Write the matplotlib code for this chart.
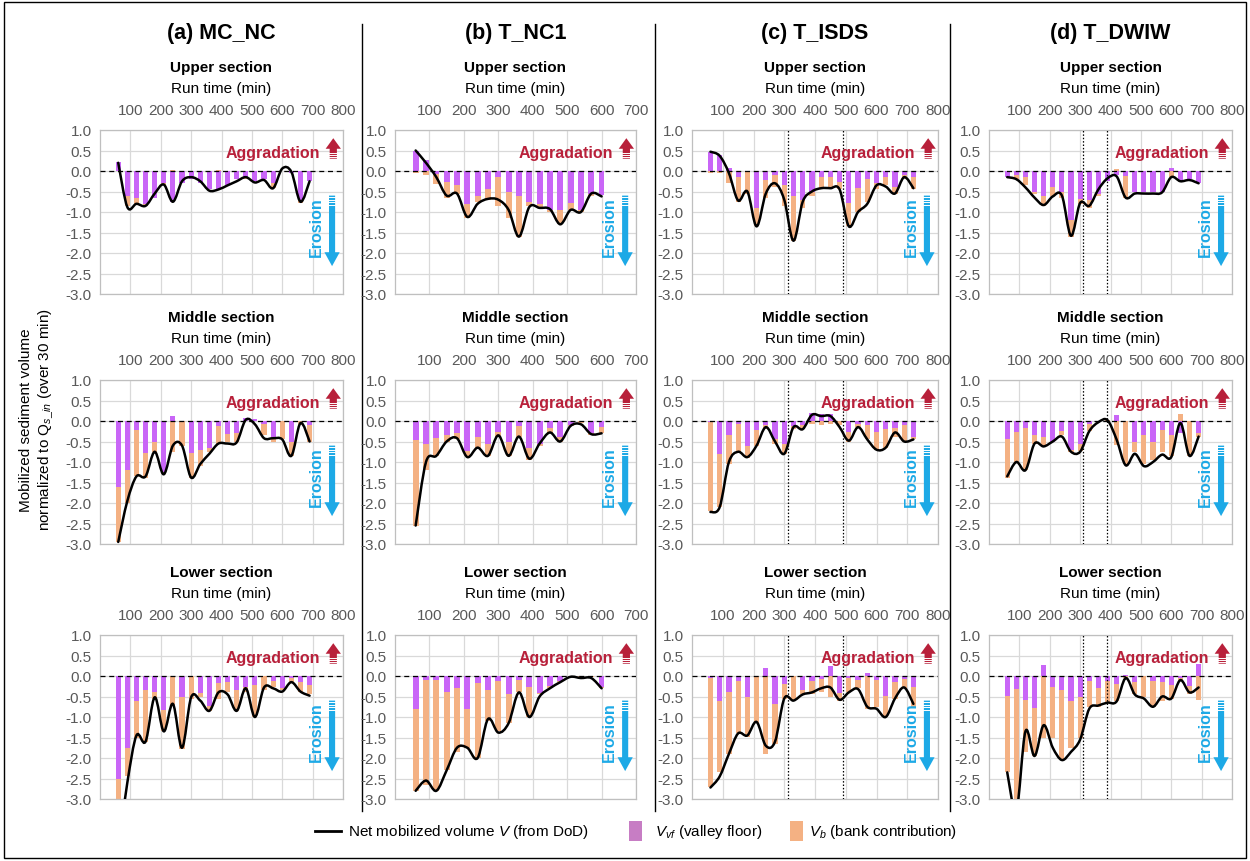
"""Mobilized sediment volume per 30-min interval for four runs and three reach sections."""

import matplotlib

matplotlib.use("Agg")

import matplotlib.pyplot as plt
import numpy as np
from matplotlib import transforms
from matplotlib.patches import PathPatch, Rectangle
from matplotlib.path import Path

plt.rcParams["font.family"] = ["Liberation Sans", "DejaVu Sans"]
plt.rcParams["axes.unicode_minus"] = False
plt.rcParams["mathtext.fontset"] = "custom"
plt.rcParams["mathtext.rm"] = "Liberation Sans"
plt.rcParams["mathtext.it"] = "Liberation Sans:italic"

TICK_FONT = ["Liberation Sans Narrow", "Liberation Sans"]

# ---- run times (min) at which each interval is reported ----
RUN_TIME_A = list(range(60, 700, 30))
RUN_TIME_B = list(range(60, 610, 30))
RUN_TIME_C = list(range(60, 730, 30))
RUN_TIME_D = list(range(60, 700, 30))

# ---- (a) MC_NC ----
a_upper_vf = [0.22, -0.6, -0.65, -0.8, -0.65, -0.3, -0.75, -0.3, -0.2, -0.3, -0.45, -0.45,
              -0.35, -0.2, -0.15, -0.25, -0.2, -0.3, 0.0, -0.05, -0.7, -0.25]
a_upper_bank = [0, -0.25, -0.15, -0.05, 0, -0.05, 0.03, 0, 0, 0, 0, 0.02,
                0, 0, -0.05, 0, 0, -0.12, 0, 0, -0.08, 0]
a_upper_net = [0.2, -0.88, -0.8, -0.85, -0.55, -0.33, -0.75, -0.25, -0.15, -0.25, -0.48, -0.45,
               -0.35, -0.25, -0.15, -0.28, -0.22, -0.42, 0.06, -0.02, -0.75, -0.25]

a_middle_vf = [-1.62, -1.2, -0.22, -0.78, -0.5, -1.25, 0.12, 0, -0.78, -0.7, -0.65, -0.12,
               -0.32, -0.3, 0.07, 0.05, -0.08, -0.4, 0, -0.5, 0, -0.1]
a_middle_bank = [-1.33, -0.8, -1.13, -0.62, -0.25, -0.05, -0.75, -0.6, -0.62, -0.4, -0.1, -0.43,
                 -0.18, -0.2, 0, 0, -0.27, -0.1, -0.45, -0.35, -0.1, -0.4]
a_middle_net = [-2.95, -1.95, -1.35, -1.35, -0.75, -1.3, -0.6, -0.6, -1.38, -1.05, -0.8, -0.55,
                -0.55, -0.52, 0.03, -0.08, -0.42, -0.42, -0.45, -0.85, -0.05, -0.5]

a_lower_vf = [-2.5, -1.75, -0.62, -0.35, -0.4, -0.82, 0, -0.5, 0, -0.42, -0.72, -0.18,
              -0.15, -0.35, -0.28, -0.22, 0, -0.12, -0.3, -0.05, -0.15, -0.22]
a_lower_bank = [-0.6, -0.7, -0.88, -1.25, -0.15, -0.53, -0.7, -1.28, -0.55, -0.08, -0.13, -0.37,
                -0.25, -0.5, -0.12, -0.78, -0.35, -0.16, -0.05, -0.1, -0.23, -0.23]
a_lower_net = [-4.2, -2.6, -1.45, -1.6, -0.52, -1.35, -0.68, -1.75, -0.52, -0.6, -0.85, -0.4,
               -0.45, -0.85, -0.3, -1.0, -0.28, -0.3, -0.38, -0.15, -0.38, -0.48]

# ---- (b) T_NC1 ----
b_upper_vf = [0.5, 0.28, -0.07, -0.28, -0.33, -0.8, -0.6, -0.45, -0.15, -0.5, -0.6, -0.75,
              -0.8, -0.95, -0.95, -0.78, -0.95, -0.55, -0.58]
b_upper_bank = [-0.05, -0.1, -0.25, -0.37, -0.22, -0.35, -0.15, -0.25, -0.7, -0.65, -1.0, -0.1,
                -0.1, -0.05, -0.35, -0.17, -0.05, -0.05, 0]
b_upper_net = [0.5, 0.2, -0.15, -0.6, -0.55, -1.12, -0.8, -0.68, -0.7, -0.95, -1.6, -0.88,
               -0.9, -0.93, -1.3, -0.95, -1.0, -0.55, -0.62]

b_middle_vf = [-0.47, -0.55, -0.42, -0.35, -0.3, -0.72, -0.4, -0.55, -0.28, -0.5, -0.12, -0.65,
               -0.55, -0.18, -0.4, -0.1, 0, -0.3, -0.15]
b_middle_bank = [-2.08, -0.65, -0.43, -0.15, -0.15, -0.13, -0.25, -0.3, -0.12, -0.35, -0.28, -0.3,
                 -0.05, -0.12, -0.1, -0.02, -0.05, -0.05, -0.15]
b_middle_net = [-2.55, -1.0, -0.85, -0.5, -0.42, -0.88, -0.65, -0.85, -0.35, -0.85, -0.38, -0.92,
                -0.55, -0.28, -0.5, -0.12, -0.08, -0.32, -0.3]

b_lower_vf = [-0.8, -0.1, -0.1, -0.4, -0.3, -0.8, -0.18, -0.35, -0.12, -0.45, -0.1, -0.28,
              -0.42, -0.25, -0.12, 0, 0, 0, -0.28]
b_lower_bank = [-2.0, -2.55, -2.7, -1.9, -1.55, -0.95, -1.82, -0.75, -1.23, -0.7, -0.3, -0.72,
                -0.03, -0.05, -0.03, -0.02, -0.05, -0.02, -0.02]
b_lower_net = [-2.8, -2.55, -2.8, -2.3, -1.75, -1.75, -2.0, -1.05, -1.38, -1.15, -0.4, -1.0,
               -0.5, -0.3, -0.15, -0.02, -0.05, -0.05, -0.3]

# ---- (c) T_ISDS ----
c_upper_vf = [0.47, 0.38, 0.07, -0.15, -0.02, -0.9, -0.22, -0.1, -0.35, -0.6, -0.7, -0.5,
              -0.15, -0.15, -0.28, -0.78, -0.42, -0.2, -0.3, -0.15, -0.4, -0.1, -0.15]
c_upper_bank = [-0.05, -0.05, -0.3, -0.6, -0.53, -0.45, -0.43, -0.3, -0.5, -1.1, -0.2, -0.1,
                -0.3, -0.3, -0.17, -0.57, -0.58, -0.55, -0.15, -0.2, -0.15, -0.1, -0.3]
c_upper_net = [0.47, 0.37, -0.05, -0.72, -0.5, -1.35, -0.55, -0.3, -0.7, -1.7, -0.75, -0.5,
               -0.42, -0.42, -0.45, -1.35, -1.0, -0.8, -0.35, -0.38, -0.55, -0.15, -0.42]

c_middle_vf = [-0.02, -0.8, -0.35, -0.08, -0.6, -0.22, -0.1, -0.45, -0.55, -0.12, -0.1, 0.2,
               0.18, 0.18, 0, -0.28, -0.08, -0.1, -0.28, -0.2, -0.18, -0.1, -0.4]
c_middle_bank = [-2.18, -1.3, -0.7, -0.67, -0.3, -0.38, -0.1, -0.1, -0.25, -0.08, -0.1, -0.08,
                 -0.1, -0.08, -0.1, -0.22, -0.07, -0.35, -0.42, -0.45, -0.22, -0.4, -0.05]
c_middle_net = [-2.22, -2.1, -1.0, -0.75, -0.88, -0.6, -0.15, -0.5, -0.8, -0.15, -0.2, 0.15,
                0.12, 0.12, -0.15, -0.48, -0.15, -0.45, -0.7, -0.65, -0.28, -0.5, -0.45]

c_lower_vf = [-0.05, -0.62, -0.4, -0.12, -0.52, 0, 0.2, -0.68, -0.2, 0, -0.35, -0.12,
              -0.08, 0.25, -0.42, -0.05, -0.1, 0.08, -0.1, -0.48, -0.15, -0.08, -0.28]
c_lower_bank = [-2.65, -1.73, -1.5, -1.28, -0.98, -1.15, -1.9, -0.97, -0.35, -0.6, -0.1, -0.33,
                -0.32, -0.52, -0.18, -0.35, -0.2, -0.8, -0.65, -0.52, -0.4, -0.22, -0.5]
c_lower_net = [-2.72, -2.45, -1.9, -1.4, -1.45, -1.12, -1.7, -1.6, -0.55, -0.6, -0.45, -0.4,
               -0.3, -0.28, -0.58, -0.4, -0.32, -0.75, -0.8, -1.0, -0.55, -0.28, -0.68]

# ---- (d) T_DWIW ----
d_upper_vf = [-0.15, -0.1, -0.15, -0.5, -0.6, -0.4, -0.5, -1.2, -0.68, -0.7, -0.55, -0.25,
              -0.1, -0.12, -0.5, -0.5, -0.5, -0.5, 0.08, -0.25, -0.2, -0.3]
d_upper_bank = [0, -0.1, -0.2, -0.05, -0.25, -0.2, -0.15, -0.4, -0.12, -0.2, -0.05, 0,
                0.05, -0.53, 0, 0, 0, 0, -0.15, 0, 0, 0]
d_upper_net = [-0.15, -0.2, -0.4, -0.65, -0.83, -0.62, -0.6, -1.58, -0.78, -0.85, -0.45, -0.18,
               -0.13, -0.65, -0.55, -0.55, -0.55, -0.52, -0.15, -0.25, -0.22, -0.3]

d_middle_vf = [-0.45, -0.27, -0.18, -0.35, -0.38, -0.5, -0.25, -0.7, -0.55, -0.08, 0, 0,
               0.15, 0, -0.5, -0.35, -0.52, -0.22, -0.35, -0.3, 0, -0.3]
d_middle_bank = [-0.93, -0.73, -1.02, -0.2, -0.22, 0, -0.1, -0.05, -0.17, -0.17, -0.02, 0.02,
                 -0.58, -1.05, -0.25, -0.7, -0.43, -0.53, -0.5, 0.18, -0.85, -0.08]
d_middle_net = [-1.35, -1.0, -1.2, -0.55, -0.62, -0.5, -0.38, -0.75, -0.75, -0.25, -0.03, 0.02,
                -0.45, -1.08, -0.8, -1.1, -1.0, -0.82, -0.88, -0.05, -0.85, -0.38]

d_lower_vf = [-0.48, -0.32, -0.58, -0.78, 0.28, -0.28, -0.35, -0.6, -0.5, -0.12, -0.3, -0.12,
              -0.2, 0.03, -0.15, 0, -0.12, -0.15, -0.22, -0.05, -0.25, 0.3]
d_lower_bank = [-1.87, -2.7, -1.27, -1.17, -1.5, -1.22, -1.7, -1.15, -1.0, -0.63, -0.45, -0.53,
                -0.4, -0.05, -0.3, -0.5, -0.63, -0.47, -0.33, -0.07, -0.2, -0.58]
d_lower_net = [-2.35, -3.3, -1.35, -1.95, -1.2, -1.75, -2.05, -1.85, -1.55, -0.8, -0.72, -0.65,
               -0.62, -0.05, -0.45, -0.55, -0.75, -0.5, -0.55, -0.1, -0.4, -0.28]

RUN_TITLES = ["(a) MC_NC", "(b) T_NC1", "(c) T_ISDS", "(d) T_DWIW"]
SECTION_TITLES = ["Upper section", "Middle section", "Lower section"]
RUN_TIMES = [RUN_TIME_A, RUN_TIME_B, RUN_TIME_C, RUN_TIME_D]
X_MAX = [800, 700, 800, 800]
# times of the dotted markers in the T_ISDS and T_DWIW runs
EVENT_TIMES = [[], [], [312, 492], [310, 390]]

SERIES = [
    [(a_upper_vf, a_upper_bank, a_upper_net), (a_middle_vf, a_middle_bank, a_middle_net),
     (a_lower_vf, a_lower_bank, a_lower_net)],
    [(b_upper_vf, b_upper_bank, b_upper_net), (b_middle_vf, b_middle_bank, b_middle_net),
     (b_lower_vf, b_lower_bank, b_lower_net)],
    [(c_upper_vf, c_upper_bank, c_upper_net), (c_middle_vf, c_middle_bank, c_middle_net),
     (c_lower_vf, c_lower_bank, c_lower_net)],
    [(d_upper_vf, d_upper_bank, d_upper_net), (d_middle_vf, d_middle_bank, d_middle_net),
     (d_lower_vf, d_lower_bank, d_lower_net)],
]

VF_COLOR = "#C966F7"
BANK_COLOR = "#F4B183"
LEGEND_VF = "#C77DC4"
AGG_COLOR = "#B8203A"
ERO_COLOR = "#1DA9E6"
TICK_COLOR = "#595959"
GRID_COLOR = "#D9D9D9"

W, H = 1250, 862
COL_X = [(100, 343), (395, 636), (692, 938), (989, 1232)]
ROW_TOP = [131, 381, 636]
PANEL_H = 164


def smooth_path(x, y):
    """Excel-style smoothed line: cubic Bezier segments with Catmull-Rom tangents."""
    pts = np.column_stack([x, y]).astype(float)
    padded = np.vstack([pts[0], pts, pts[-1]])
    verts = [pts[0]]
    codes = [Path.MOVETO]
    for i in range(len(pts) - 1):
        p0, p1, p2, p3 = padded[i], padded[i + 1], padded[i + 2], padded[i + 3]
        verts += [p1 + (p2 - p0) / 6.0, p2 - (p3 - p1) / 6.0, p2]
        codes += [Path.CURVE4] * 3
    return Path(np.array(verts), codes)


def draw_panel(ax, times, vf, bank, net, xmax, events):
    t = np.asarray(times, dtype=float)
    vf = np.asarray(vf, dtype=float)
    bank = np.asarray(bank, dtype=float)
    same_sign = np.sign(vf) == np.sign(bank)
    bottom = np.where(same_sign, vf, 0.0)

    ax.bar(t, vf, width=17, color=VF_COLOR, zorder=2)
    ax.bar(t, bank, width=17, bottom=bottom, color=BANK_COLOR, zorder=2)
    ax.add_patch(PathPatch(smooth_path(t, net), facecolor="none", edgecolor="black",
                           lw=1.8, zorder=4, capstyle="round", joinstyle="round"))

    ax.axhline(0, color="black", lw=0.9, ls=(0, (4, 3)), zorder=3)
    for ev in events:
        ax.axvline(ev, color="black", lw=0.9, ls=(0, (1.2, 1.5)), zorder=3)

    ax.set_xlim(0, xmax)
    ax.set_ylim(-3.0, 1.0)
    ax.set_xticks(range(100, xmax + 1, 100))
    ax.set_yticks(np.arange(-3.0, 1.01, 0.5))
    ax.set_yticklabels([f"{v:.1f}" for v in np.arange(-3.0, 1.01, 0.5)])
    ax.xaxis.tick_top()
    ax.tick_params(length=0, labelsize=11, labelcolor=TICK_COLOR)
    ax.tick_params(axis="x", pad=9)
    ax.tick_params(axis="y", pad=6)
    for lab in ax.get_xticklabels() + ax.get_yticklabels():
        lab.set_family(TICK_FONT)
    ax.grid(True, color=GRID_COLOR, lw=0.9, zorder=0)
    ax.set_axisbelow(True)
    for sp in ax.spines.values():
        sp.set_color("#BFBFBF")
        sp.set_linewidth(0.9)

    # aggradation / erosion cues
    bt = transforms.blended_transform_factory(ax.transAxes, ax.transData)
    ax.text(0.905, 0.45, "Aggradation", transform=bt, ha="right", va="center",
            fontsize=11.5, fontweight="bold", color=AGG_COLOR, zorder=5)
    ax.annotate("", xy=(0.96, 0.8), xytext=(0.96, 0.3), xycoords=bt, textcoords=bt,
                arrowprops=dict(arrowstyle="simple,head_width=0.55,head_length=0.38,tail_width=0.26",
                                mutation_scale=20, color=AGG_COLOR, lw=0,
                                shrinkA=0, shrinkB=0), zorder=5)
    for yy in (0.33, 0.39, 0.45):
        ax.plot([0.94, 0.98], [yy, yy], transform=bt, color="white", lw=0.7, zorder=6)

    ax.text(0.89, -1.35, "Erosion", transform=bt, ha="center", va="center", rotation=90,
            fontsize=11.5, fontweight="bold", color=ERO_COLOR, zorder=5)
    ax.annotate("", xy=(0.955, -2.32), xytext=(0.955, -0.6), xycoords=bt, textcoords=bt,
                arrowprops=dict(arrowstyle="simple,head_width=0.55,head_length=0.5,tail_width=0.22",
                                mutation_scale=20, color=ERO_COLOR, lw=0,
                                shrinkA=0, shrinkB=0), zorder=5)
    for yy in (-0.64, -0.7, -0.76, -0.82):
        ax.plot([0.935, 0.975], [yy, yy], transform=bt, color="white", lw=0.7, zorder=6)


fig = plt.figure(figsize=(W / 100, H / 100), dpi=100)
fig.patch.set_facecolor("white")

for c in range(4):
    x0, x1 = COL_X[c]
    for r in range(3):
        top = ROW_TOP[r]
        ax = fig.add_axes([x0 / W, 1 - (top + PANEL_H) / H, (x1 - x0) / W, PANEL_H / H])
        vf, bank, net = SERIES[c][r]
        draw_panel(ax, RUN_TIMES[c], vf, bank, net, X_MAX[c], EVENT_TIMES[c])
        xc = (x0 + x1) / 2 / W
        fig.text(xc, 1 - (top - 63) / H, SECTION_TITLES[r], ha="center", va="center",
                 fontsize=11, fontweight="bold")
        fig.text(xc, 1 - (top - 42) / H, "Run time (min)", ha="center", va="center", fontsize=11)
    fig.text((x0 + x1) / 2 / W, 1 - 33 / H, RUN_TITLES[c], ha="center", va="center",
             fontsize=15.5, fontweight="bold")

fig.text(0.03, 1 - 420 / H, "Mobilized sediment volume\nnormalized to Q$_{\\mathit{s\\_in}}$ (over 30 min)",
         rotation=90, ha="center", va="center", fontsize=11, linespacing=1.3)

# frame, column separators and legend, laid out in pixel units
ov = fig.add_axes([0, 0, 1, 1], zorder=-1)
ov.set_xlim(0, W)
ov.set_ylim(H, 0)
ov.axis("off")
ov.add_patch(Rectangle((4, 3), W - 8, H - 6, fill=False, ec="black", lw=1.0))
for xs in (362, 655, 950):
    ov.plot([xs, xs], [25, 812], color="black", lw=1.0)

ov.plot([315, 341], [832, 832], color="black", lw=2)
ov.text(348, 832, "Net mobilized volume $V$ (from DoD)", ha="left", va="center", fontsize=11)
ov.add_patch(Rectangle((629, 822), 13, 20, color=LEGEND_VF, lw=0))
ov.text(655, 832, "$V_{vf}$ (valley floor)", ha="left", va="center", fontsize=11)
ov.add_patch(Rectangle((790, 822), 13, 20, color=BANK_COLOR, lw=0))
ov.text(809, 832, "$V_b$ (bank contribution)", ha="left", va="center", fontsize=11)

fig.savefig("out.png", dpi=100, facecolor="white")
